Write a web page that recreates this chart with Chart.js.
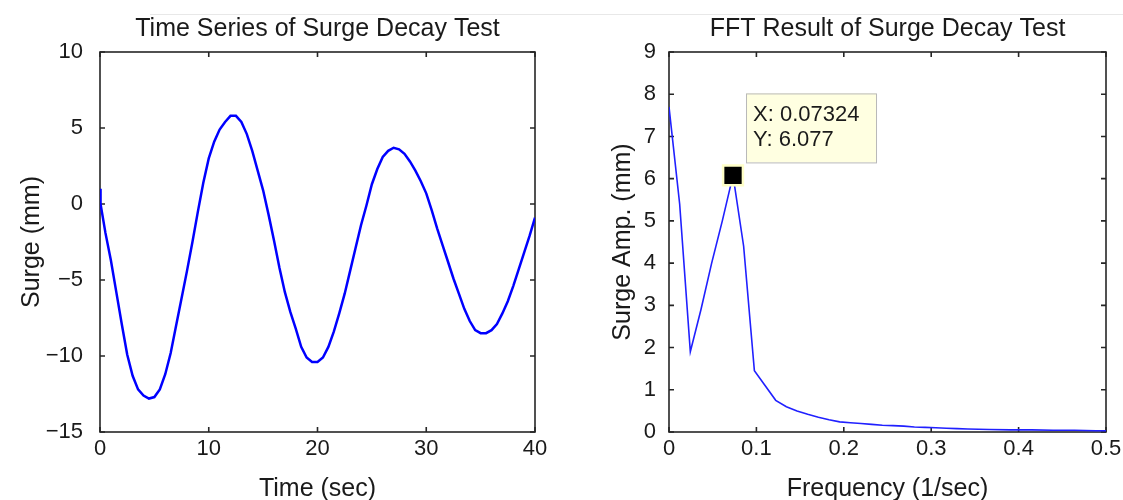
<!DOCTYPE html>
<html>
<head>
<meta charset="utf-8">
<title>Surge Decay Test</title>
<script src="https://cdn.jsdelivr.net/npm/chart.js@4.4.1/dist/chart.umd.min.js"></script>
<style>
  body { margin: 0; background: #fff; width: 1123px; height: 500px; overflow: hidden; position: relative; }
  #topline { position: absolute; left: 150px; right: 0; top: 14px; height: 1px; background: #e8e8e8; }
  canvas { position: absolute; top: 0; }
  #leftChart { left: 0; }
  #rightChart { left: 570px; }
</style>
</head>
<body>
<div id="topline"></div>
<canvas id="leftChart" width="560" height="500"></canvas>
<canvas id="rightChart" width="553" height="500"></canvas>
<script>
// time series (sec, mm)
const timeSec = [0,0.05,0.5,1,1.5,2,2.5,3,3.5,4,4.5,5,5.5,6,6.5,7,7.5,8,8.5,9,9.5,10,10.5,11,11.5,12,12.5,13,13.5,14,14.5,15,15.5,16,16.5,17,17.5,18,18.5,19,19.5,20,20.5,21,21.5,22,22.5,23,23.5,24,24.5,25,25.5,26,26.5,27,27.5,28,28.5,29,29.5,30,30.5,31,31.5,32,32.5,33,33.5,34,34.5,35,35.5,36,36.5,37,37.5,38,38.5,39,39.5,40];
const surgeMm = [1.0,0.0,-1.9,-3.7,-5.8,-7.9,-9.9,-11.3,-12.2,-12.6,-12.8,
  -12.7,-12.2,-11.2,-9.8,-8.0,-6.2,-4.4,-2.5,-0.5,1.4,
  3.0,4.1,4.9,5.4,5.8,5.8,5.4,4.6,3.5,2.2,
  0.9,-0.7,-2.4,-4.2,-5.8,-7.1,-8.2,-9.4,-10.1,-10.4,
  -10.4,-10.1,-9.4,-8.4,-7.2,-5.9,-4.4,-2.9,-1.4,-0.1,
  1.3,2.3,3.1,3.5,3.7,3.6,3.3,2.8,2.2,1.5,
  0.7,-0.4,-1.6,-2.7,-3.8,-4.9,-5.9,-6.9,-7.7,-8.3,
  -8.5,-8.5,-8.3,-7.9,-7.2,-6.4,-5.4,-4.3,-3.2,-2.1,
  -0.9];

// FFT result (1/sec, mm)
const freqHz = [0,0.0122,0.0244,0.0366,0.0488,0.0610,0.07324,0.0854,0.0977,0.1099,0.1221,0.1343,0.1465,0.1587,0.1709,0.1831,0.1953,0.2075,0.2197,0.2319,0.2441,0.2563,0.2686,0.2808,0.2930,0.3052,0.3174,0.3296,0.3418,0.3662,0.3906,0.4150,0.4395,0.4639,0.4883,0.5];
const surgeAmp = [7.7,5.4,1.9,2.9,4.0,5.0,6.077,4.4,1.45,1.1,0.75,0.6,0.5,0.42,0.35,0.29,0.24,0.22,0.2,0.18,0.16,0.15,0.14,0.12,0.11,0.1,0.09,0.08,0.07,0.06,0.05,0.05,0.04,0.04,0.03,0.03];
const peakFreq = [0.07324];
const peakAmp = [6.077];

// axis ticks
const timeTicks = [0,10,20,30,40];
const surgeTicks = [-15,-10,-5,0,5,10];
const freqTicks = [0,0.1,0.2,0.3,0.4,0.5];
const ampTicks = [0,1,2,3,4,5,6,7,8,9];

Chart.defaults.font.family = '"Liberation Sans", Arial, sans-serif';
Chart.defaults.color = '#1a1a1a';

const fmt = v => v < 0 ? '\u2212' + Math.abs(v) : String(v);

// matlab style box with inward ticks
const boxTicks = {
  id: 'boxTicks',
  beforeDatasetsDraw(chart) {
    const {ctx, chartArea: a, scales: {x, y}} = chart;
    ctx.save();
    ctx.strokeStyle = '#262626';
    ctx.lineWidth = 1.6;
    ctx.beginPath();
    x.ticks.forEach(t => {
      const px = x.getPixelForValue(t.value);
      ctx.moveTo(px, a.bottom); ctx.lineTo(px, a.bottom - 5);
      ctx.moveTo(px, a.top); ctx.lineTo(px, a.top + 5);
    });
    y.ticks.forEach(t => {
      const py = y.getPixelForValue(t.value);
      ctx.moveTo(a.left, py); ctx.lineTo(a.left + 5, py);
      ctx.moveTo(a.right, py); ctx.lineTo(a.right - 5, py);
    });
    ctx.stroke();
    ctx.strokeRect(a.left, a.top, a.right - a.left, a.bottom - a.top);
    ctx.restore();
  }
};

// data tip next to the marked peak
const dataTip = {
  id: 'dataTip',
  afterDatasetsDraw(chart) {
    const pt = chart.getDatasetMeta(1).data[0];
    const ctx = chart.ctx;
    const left = pt.x + 13, top = pt.y - 82;
    ctx.save();
    ctx.fillStyle = '#ffffe1';
    ctx.strokeStyle = '#b9b9b9';
    ctx.lineWidth = 1;
    ctx.fillRect(left, top, 130, 69);
    ctx.strokeRect(left + 0.5, top + 0.5, 130, 69);
    ctx.fillStyle = '#1a1a1a';
    ctx.font = '22px "Liberation Sans", Arial, sans-serif';
    ctx.textBaseline = 'alphabetic';
    ctx.fillText('X: ' + peakFreq[0], left + 7, top + 28);
    ctx.fillText('Y: ' + peakAmp[0], left + 7, top + 53);
    ctx.restore();
  }
};

function makeOptions(o) {
  return {
    responsive: false,
    animation: false,
    layout: { padding: { left: 0, right: o.rightPad, top: 0, bottom: 0 } },
    plugins: {
      legend: { display: false },
      tooltip: { enabled: false },
      title: {
        display: true,
        text: o.title,
        fullSize: false,
        color: '#1a1a1a',
        font: { size: 25, weight: 'normal' },
        padding: { top: 14, bottom: 8 }
      }
    },
    scales: {
      x: {
        type: 'linear',
        min: o.xTicks[0],
        max: o.xTicks[o.xTicks.length - 1],
        afterBuildTicks: s => { s.ticks = o.xTicks.map(v => ({ value: v })); },
        afterFit: s => { s.height = 68; },
        grid: { display: false },
        border: { display: false },
        ticks: { callback: fmt, maxRotation: 0, padding: -4, font: { size: 22 }, color: '#1a1a1a' },
        title: { display: true, text: o.xTitle, font: { size: 25 }, color: '#1a1a1a', padding: { top: 0, bottom: -4 } }
      },
      y: {
        min: o.yTicks[0],
        max: o.yTicks[o.yTicks.length - 1],
        afterBuildTicks: s => { s.ticks = o.yTicks.map(v => ({ value: v })); },
        afterFit: s => { s.width = o.yWidth; },
        grid: { display: false },
        border: { display: false },
        ticks: { callback: fmt, padding: o.yTickPad, font: { size: 22 }, color: '#1a1a1a' },
        title: { display: true, text: o.yTitle, font: { size: 25 }, color: '#1a1a1a', padding: { top: o.yTitlePad, bottom: 0 } }
      }
    }
  };
}

new Chart(document.getElementById('leftChart'), {
  type: 'line',
  data: {
    datasets: [{
      data: timeSec.map((t, i) => ({ x: t, y: surgeMm[i] })),
      borderColor: '#0000ff',
      borderWidth: 2.5,
      pointRadius: 0,
      tension: 0
    }]
  },
  options: makeOptions({
    title: 'Time Series of Surge Decay Test',
    xTicks: timeTicks, yTicks: surgeTicks,
    xTitle: 'Time (sec)', yTitle: 'Surge (mm)',
    yWidth: 100, rightPad: 25, yTickPad: 9, yTitlePad: 17
  }),
  plugins: [boxTicks]
});

new Chart(document.getElementById('rightChart'), {
  type: 'line',
  data: {
    datasets: [{
      data: freqHz.map((f, i) => ({ x: f, y: surgeAmp[i] })),
      borderColor: '#2020ff',
      borderWidth: 1.6,
      pointRadius: 0,
      tension: 0,
      order: 1
    }, {
      data: peakFreq.map((f, i) => ({ x: f, y: peakAmp[i] })),
      showLine: false,
      pointStyle: 'rect',
      pointRadius: 14,
      backgroundColor: '#000000',
      borderColor: '#ffffc8',
      borderWidth: 2.5,
      order: 0
    }]
  },
  options: makeOptions({
    title: 'FFT Result of Surge Decay Test',
    xTicks: freqTicks, yTicks: ampTicks,
    xTitle: 'Frequency (1/sec)', yTitle: 'Surge Amp. (mm)',
    yWidth: 99, rightPad: 17, yTickPad: 5, yTitlePad: 38
  }),
  plugins: [boxTicks, dataTip]
});
</script>
</body>
</html>
